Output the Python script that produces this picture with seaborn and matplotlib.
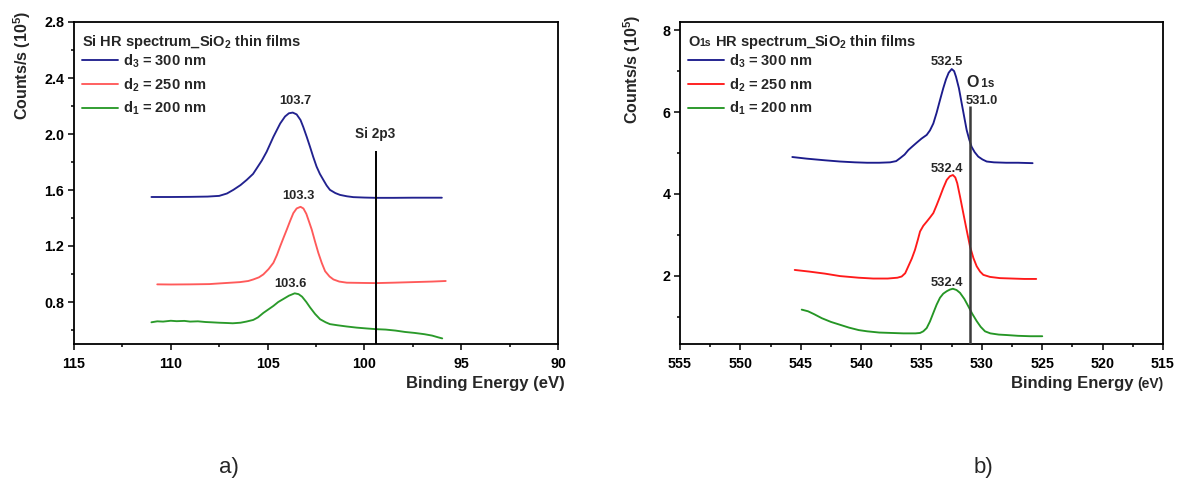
import matplotlib
matplotlib.use("Agg")
import matplotlib.pyplot as plt
import matplotlib.transforms as mtrans
from matplotlib.ticker import MultipleLocator, FormatStrFormatter
from matplotlib.lines import Line2D
import pandas as pd
import seaborn as sns

# ---------------- Si 2p high-resolution spectra ----------------
si_d3_be = [111.0, 110.0, 109.0, 108.1, 107.5, 107.1, 106.77, 106.4, 106.08, 105.75, 105.56,
            105.3, 105.05, 104.7, 104.35, 104.1, 103.9, 103.7, 103.5, 103.3, 103.16, 102.98,
            102.81, 102.64, 102.47, 102.3, 102.12, 101.95, 101.78, 101.5, 101.26, 100.9,
            100.57, 100.0, 99.4, 98.5, 97.5, 96.0]
si_d3_cts = [1.550, 1.550, 1.551, 1.553, 1.558, 1.575, 1.601, 1.635, 1.672, 1.715, 1.755,
             1.810, 1.873, 1.980, 2.075, 2.125, 2.148, 2.153, 2.140, 2.100, 2.051, 1.980,
             1.909, 1.835, 1.767, 1.715, 1.672, 1.632, 1.601, 1.578, 1.565, 1.555,
             1.549, 1.546, 1.544, 1.544, 1.545, 1.545]

si_d2_be = [110.7, 110.0, 109.0, 108.0, 107.46, 106.43, 106.0, 105.74, 105.45, 105.22, 104.95,
            104.7, 104.52, 104.35, 104.18, 104.01, 103.84, 103.67, 103.5, 103.3, 103.15, 103.0,
            102.85, 102.72, 102.55, 102.38, 102.2, 102.03, 101.8, 101.6, 101.3, 100.91, 100.0,
            99.4, 98.5, 97.5, 96.5, 95.8]
si_d2_cts = [0.926, 0.925, 0.926, 0.928, 0.933, 0.942, 0.950, 0.961, 0.976, 0.997, 1.035,
             1.080, 1.135, 1.198, 1.258, 1.317, 1.378, 1.435, 1.468, 1.480, 1.468, 1.430,
             1.370, 1.317, 1.232, 1.151, 1.078, 1.020, 0.982, 0.961, 0.946, 0.938, 0.936,
             0.935, 0.938, 0.942, 0.946, 0.950]

si_d1_be = [111.0, 110.7, 110.4, 110.0, 109.7, 109.3, 109.0, 108.6, 108.2, 107.9, 107.5, 107.1,
            106.8, 106.4, 106.1, 105.74, 105.5, 105.22, 104.95, 104.7, 104.45, 104.18, 103.9,
            103.6, 103.4, 103.22, 103.0, 102.81, 102.55, 102.29, 102.0, 101.78, 101.4, 100.91,
            100.4, 99.88, 99.4, 98.9, 98.4, 97.9, 97.4, 96.9, 96.5, 96.2, 95.98]
si_d1_cts = [0.655, 0.662, 0.660, 0.666, 0.663, 0.665, 0.660, 0.662, 0.657, 0.655, 0.652, 0.650,
             0.648, 0.652, 0.660, 0.672, 0.690, 0.722, 0.748, 0.772, 0.800, 0.822, 0.845,
             0.862, 0.856, 0.838, 0.800, 0.762, 0.715, 0.677, 0.655, 0.642, 0.634, 0.625,
             0.617, 0.611, 0.606, 0.603, 0.596, 0.586, 0.579, 0.570, 0.560, 0.548, 0.540]

si_peaks = [103.7, 103.3, 103.6]
si_ref_be = 99.4
si_ref_top = 1.88

# ---------------- O 1s high-resolution spectra ----------------
o_d3_be = [545.7, 544.5, 543.0, 541.75, 540.5, 539.5, 538.5, 537.6, 537.1, 536.78, 536.4,
           536.09, 535.75, 535.4, 535.0, 534.57, 534.3, 534.02, 533.75, 533.47, 533.2, 532.97,
           532.75, 532.5, 532.3, 532.14, 531.9, 531.67, 531.45, 531.26, 531.05, 530.85, 530.6,
           530.3, 529.95, 529.6, 529.0, 528.0, 527.0, 525.8]
o_d3_cts = [4.90, 4.86, 4.82, 4.79, 4.77, 4.76, 4.76, 4.77, 4.80, 4.87, 4.96,
            5.07, 5.16, 5.25, 5.35, 5.44, 5.55, 5.72, 5.98, 6.29, 6.58, 6.80,
            6.96, 7.05, 7.00, 6.86, 6.58, 6.21, 5.86, 5.56, 5.33, 5.15, 5.02,
            4.91, 4.84, 4.79, 4.77, 4.76, 4.76, 4.75]

o_d2_be = [545.5, 544.3, 543.0, 541.75, 540.2, 539.0, 537.8, 537.0, 536.64, 536.35, 536.09,
           535.8, 535.54, 535.3, 535.12, 534.85, 534.57, 534.3, 534.02, 533.75, 533.47, 533.2,
           532.91, 532.65, 532.4, 532.2, 532.04, 531.8, 531.54, 531.25, 530.98, 530.7, 530.43,
           530.15, 529.88, 529.33, 528.5, 527.5, 526.5, 525.5]
o_d2_cts = [2.14, 2.10, 2.05, 1.99, 1.95, 1.93, 1.93, 1.95, 1.98, 2.06, 2.23,
            2.42, 2.63, 2.88, 3.08, 3.22, 3.32, 3.42, 3.53, 3.72, 3.93, 4.14,
            4.34, 4.43, 4.46, 4.40, 4.26, 3.92, 3.53, 3.10, 2.71, 2.43, 2.23,
            2.10, 2.02, 1.97, 1.94, 1.93, 1.92, 1.92]

o_d1_be = [544.92, 544.4, 543.9, 543.25, 542.5, 541.75, 541.0, 540.2, 539.5, 538.5, 537.5,
           536.5, 535.5, 535.12, 534.85, 534.57, 534.3, 534.02, 533.75, 533.47, 533.2, 532.91,
           532.65, 532.4, 532.1, 531.81, 531.45, 531.12, 530.8, 530.43, 530.1, 529.74, 529.3,
           528.6, 528.0, 527.0, 526.0, 525.0]
o_d1_cts = [1.17, 1.13, 1.06, 0.96, 0.87, 0.80, 0.73, 0.67, 0.64, 0.61, 0.60,
            0.59, 0.59, 0.60, 0.64, 0.72, 0.88, 1.09, 1.29, 1.46, 1.56, 1.62,
            1.66, 1.68, 1.65, 1.58, 1.43, 1.25, 1.07, 0.89, 0.75, 0.64, 0.59,
            0.56, 0.55, 0.53, 0.52, 0.52]

o_peaks = [532.5, 532.4, 532.4]
o_ref_be = 531.0
o_ref_top = 6.14

film_labels = ["d$_3$ = 300 nm", "d$_2$ = 250 nm", "d$_1$ = 200 nm"]

# ---------------- style ----------------
sns.set_theme(style="ticks")
plt.rcParams.update({
    "font.family": ["Liberation Sans", "DejaVu Sans"],
    "font.weight": "bold",
    "axes.labelweight": "bold",
    "mathtext.fontset": "custom",
    "mathtext.bf": "Liberation Sans:bold",
    "mathtext.rm": "Liberation Sans:bold",
    "mathtext.default": "bf",
    "axes.edgecolor": "black",
    "axes.linewidth": 1.3,
    "xtick.color": "black",
    "ytick.color": "black",
})

fig = plt.figure(figsize=(11.77, 4.84), dpi=100)
W, H = 1177, 484
ax1 = fig.add_axes([74 / W, 1 - 344 / H, (558 - 74) / W, (344 - 22) / H])
ax2 = fig.add_axes([680 / W, 1 - 344 / H, (1163 - 680) / W, (344 - 22) / H])


def make_frame(be_lists, cts_lists):
    parts = []
    for lab, be, cts in zip(film_labels, be_lists, cts_lists):
        parts.append(pd.DataFrame({"be": be, "cts": cts, "film": lab}))
    return pd.concat(parts, ignore_index=True)


def chain_text(ax, x, y, pieces, transform, ha="left", **kw):
    """Place text pieces of different sizes on a common baseline."""
    r = fig.canvas.get_renderer()
    texts = [ax.text(x, y, s, transform=transform, fontsize=fs, va="baseline",
                     ha="left", fontweight="bold", **kw) for s, fs in pieces]
    widths = [t.get_window_extent(r).width for t in texts]
    dx = -sum(widths) if ha == "right" else 0.0
    for t, w in zip(texts, widths):
        t.set_transform(transform + mtrans.ScaledTranslation(dx / fig.dpi, 0, fig.dpi_scale_trans))
        dx += w
    return texts


def style_axes(ax, xlim, ylim, xmaj, ymaj, yfmt):
    ax.set_xlim(*xlim)
    ax.set_ylim(*ylim)
    ax.xaxis.set_major_locator(MultipleLocator(xmaj))
    ax.xaxis.set_minor_locator(MultipleLocator(xmaj / 2))
    ax.yaxis.set_major_locator(MultipleLocator(ymaj))
    ax.yaxis.set_minor_locator(MultipleLocator(ymaj / 2))
    ax.yaxis.set_major_formatter(FormatStrFormatter(yfmt))
    ax.tick_params(which="both", direction="out", width=1.1, top=False, right=False,
                   labelsize=10.3)
    ax.tick_params(axis="x", which="both", pad=5.5)
    ax.tick_params(axis="y", which="both", pad=3)
    ax.tick_params(which="major", length=4)
    ax.tick_params(which="minor", length=2.5)
    for sp in ax.spines.values():
        sp.set_linewidth(1.3)
        sp.set_color("black")
    ax.set_xlabel("")
    ax.set_ylabel("")


def draw_panel(ax, df, palette, ref_be, ref_top, xlim, ylim, xmaj, ymaj, yfmt, ref_color, ref_lw):
    sns.lineplot(data=df, x="be", y="cts", hue="film", palette=palette, sort=False,
                 estimator=None, linewidth=1.35, legend=False, ax=ax)
    style_axes(ax, xlim, ylim, xmaj, ymaj, yfmt)
    ax.vlines(ref_be, ylim[0], ref_top, color=ref_color, linewidth=ref_lw, zorder=3)
    handles = [Line2D([], [], color=palette[l], linewidth=1.35) for l in film_labels]
    ax.legend(handles, film_labels, loc="upper left", bbox_to_anchor=(0.0165, 0.905),
              borderaxespad=0, borderpad=0, frameon=False, fontsize=10.5,
              handlelength=2.5, handletextpad=0.3, labelspacing=0.42)


# ---- panel a: Si ----
pal_si = dict(zip(film_labels, ["#22228f", "#ff5a5a", "#2a9a2a"]))
df_si = make_frame([si_d3_be, si_d2_be, si_d1_be], [si_d3_cts, si_d2_cts, si_d1_cts])
draw_panel(ax1, df_si, pal_si, si_ref_be, si_ref_top, (115, 90), (0.5, 2.8), 5, 0.4, "%.1f",
           "black", 1.4)

si_label_pos = [(103.55, 2.217), (103.39, 1.535), (103.84, 0.909)]
for pk, (lx, ly) in zip(si_peaks, si_label_pos):
    ax1.text(lx, ly, f"{pk:.1f}", ha="center", va="baseline", fontsize=9.3, fontweight="bold")
ax1.text(si_ref_be + 0.05, 1.968, "Si 2p3", ha="center", va="baseline", fontsize=9.8,
         fontweight="bold")

chain_text(ax1, 0.0165, 0.925, [("Si HR spectrum_SiO$_2$ thin films", 10.5)], ax1.transAxes)
chain_text(ax1, 1.0145, -0.1366, [("Binding Energy (eV)", 12)], ax1.transAxes, ha="right")
ax1.text(-0.1074, 0.8665, "Counts/s (10$^{5}$)", transform=ax1.transAxes, rotation=90,
         ha="center", va="center", fontsize=11.5, fontweight="bold")

# ---- panel b: O ----
pal_o = dict(zip(film_labels, ["#1c1c8c", "#ff1a1a", "#259625"]))
df_o = make_frame([o_d3_be, o_d2_be, o_d1_be], [o_d3_cts, o_d2_cts, o_d1_cts])
draw_panel(ax2, df_o, pal_o, o_ref_be, o_ref_top, (555, 515), (0.33, 8.2), 5, 2, "%d",
           "#3a3a3a", 1.8)

o_label_pos = [(532.91, 7.15), (532.91, 4.54), (532.91, 1.74)]
for pk, (lx, ly) in zip(o_peaks, o_label_pos):
    ax2.text(lx, ly, f"{pk:.1f}", ha="center", va="baseline", fontsize=9.3, fontweight="bold")
chain_text(ax2, 531.31, 6.62, [("O", 11.5), (" 1s", 8.5)], ax2.transData)
ax2.text(531.31, 6.2, f"{o_ref_be:.1f}", ha="left", va="baseline", fontsize=9.3,
         fontweight="bold")

chain_text(ax2, 0.0166, 0.925,
           [("O", 10.5), ("1s", 7.5), (" HR spectrum_SiO$_2$ thin films", 10.5)], ax2.transAxes)
chain_text(ax2, 1.002, -0.1366, [("Binding Energy ", 12), ("(eV)", 10)], ax2.transAxes,
           ha="right")
ax2.text(-0.0994, 0.854, "Counts/s (10$^{5}$)", transform=ax2.transAxes, rotation=90,
         ha="center", va="center", fontsize=11.5, fontweight="bold")

# ---- panel captions ----
fig.text(229 / W, 1 - 468 / H, "a)", ha="center", va="center", fontsize=16, fontweight="normal")
fig.text(983 / W, 1 - 468 / H, "b)", ha="center", va="center", fontsize=16, fontweight="normal")

fig.savefig("out.png", dpi=100, facecolor="white")
